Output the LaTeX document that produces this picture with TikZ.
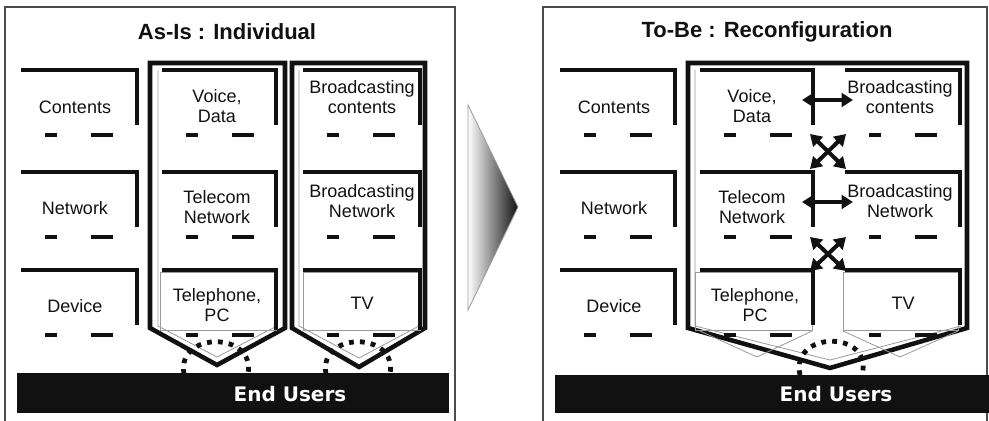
\documentclass[tikz,border=0pt]{standalone}
\usepackage{fontspec}
\setmainfont{Liberation Sans}
\newfontfamily\usersfont{DejaVu Sans}
\usetikzlibrary{arrows.meta}
\definecolor{cfgInk}{HTML}{111111}
\definecolor{cfgGray}{HTML}{9A9A9A}
\tikzset{
  every picture/.style={text=cfgInk},
  panel frame/.style={draw=cfgInk!75, line width=1pt},
  panel title/.style={font=\fontsize{16.5}{18}\selectfont\bfseries, inner sep=0pt},
  cell text/.style={font=\fontsize{13.5}{15.5}\selectfont, align=center, inner sep=0pt},
  cell bar/.style={draw=cfgInk, line width=3pt, line cap=butt, line join=miter},
  cell dash/.style={draw=cfgInk, line width=3pt},
  cell box/.style={draw=cfgGray, line width=0.5pt},
  column frame/.style={draw=cfgInk, line width=3.4pt, line join=miter},
  column inner/.style={draw=cfgGray, line width=0.6pt},
  users bar/.style={fill=cfgInk},
  users text/.style={font=\usersfont\bfseries\fontsize{15}{18}\selectfont, text=white, inner sep=0pt},
  user link/.style={draw=cfgInk, line width=3.6pt, dash pattern=on 3.6pt off 4.6pt},
  link arrow/.style={{Triangle[length=3mm,width=3.6mm]}-{Triangle[length=3mm,width=3.6mm]},
    draw=cfgInk, line width=3pt},
  pics/cellbars/.style args={#1/#2}{code={
    \draw[cell bar] (0,0) -- (#1,0) -- (#1,#2);
    \draw[cell dash] (24,65) -- (36,65);
    \draw[cell dash] (70,65) -- (92,65);
  }}
}

\begin{document}
\begin{tikzpicture}[x=0.75pt,y=-0.75pt]
  \useasboundingbox (0,0) rectangle (989,421);

  % as-is panel
  \draw[panel frame] (5,421) -- (5,7) -- (455,7) -- (455,421);
  \node[panel title] (asTitle) at (227,32) {As-Is : Individual};

  \draw[column frame] (150,63) -- (285,63) -- (285,328) -- (217,365) -- (150,328) -- cycle;
  \draw[column inner] (158,70) -- (158,326) -- (217,357) -- (277,326);
  \draw[column frame] (292,63) -- (425,63) -- (425,328) -- (359,367) -- (292,328) -- cycle;
  \draw[column inner] (299,70) -- (299,326) -- (359,358) -- (419,326);

  \pic at (21,70) {cellbars={116/55}};
  \pic at (21,172) {cellbars={116/55}};
  \pic at (21,270) {cellbars={116/55}};
  \pic at (162,70) {cellbars={114/55}};
  \pic at (162,172) {cellbars={114/55}};
  \draw[cell box] (160,272) rectangle (276,330);
  \pic at (162,270) {cellbars={114/60}};
  \pic at (303,70) {cellbars={117/55}};
  \pic at (303,172) {cellbars={117/55}};
  \draw[cell box] (303,272) rectangle (420,330);
  \pic at (303,270) {cellbars={117/60}};

  \node[cell text] (asContents) at (75,107) {Contents};
  \node[cell text] (asNetwork) at (75,208) {Network};
  \node[cell text] (asDevice) at (75,306) {Device};
  \node[cell text] (asVoice) at (217,106) {Voice,\\Data};
  \node[cell text] (asTelecom) at (217,207) {Telecom\\Network};
  \node[cell text] (asPhone) at (217,305) {Telephone,\\PC};
  \node[cell text] (asBcContents) at (362,97) {Broadcasting\\contents};
  \node[cell text] (asBcNetwork) at (362,201) {Broadcasting\\Network};
  \node[cell text] (asTV) at (362,303) {TV};

  \draw[user link] (184,374) .. controls (176,331) and (256,331) .. (248,374);
  \draw[user link] (326,374) .. controls (318,331) and (398,331) .. (390,374);
  \fill[users bar] (17,373) rectangle (449,413);
  \node[users text] (asUsers) at (290,394) {End Users};

  % change arrow
  \shade[left color=white, right color=cfgInk] (468,105) -- (518,207) -- (468,310) -- cycle;
  \draw[cfgGray, line width=0.6pt] (468,105) -- (518,207) -- (468,310) -- cycle;

  % to-be panel
  \draw[panel frame] (543,421) -- (543,7) -- (987,7) -- (987,421);
  \node[panel title] (tbTitle) at (767,32) {To-Be : Reconfiguration};

  \draw[column frame] (688,63) -- (967,63) -- (967,328) -- (830,368) -- (688,328) -- cycle;
  \draw[column inner] (695,70) -- (695,326) -- (830,360) -- (961,326);
  \draw[column inner] (700,331) -- (757,357) -- (812,331);
  \draw[column inner] (843,331) -- (900,357) -- (958,331);

  \pic at (560,70) {cellbars={115/55}};
  \pic at (560,172) {cellbars={115/55}};
  \pic at (560,270) {cellbars={115/55}};
  \pic at (700,70) {cellbars={113/55}};
  \pic at (700,172) {cellbars={113/55}};
  \draw[cell box] (695,272) rectangle (812,330);
  \pic at (700,270) {cellbars={113/55}};
  \pic at (845,70) {cellbars={115/55}};
  \pic at (845,172) {cellbars={115/55}};
  \draw[cell box] (843,272) rectangle (958,330);
  \pic at (845,270) {cellbars={115/55}};

  \node[cell text] (tbContents) at (614,107) {Contents};
  \node[cell text] (tbNetwork) at (614,208) {Network};
  \node[cell text] (tbDevice) at (614,306) {Device};
  \node[cell text] (tbVoice) at (752,106) {Voice,\\Data};
  \node[cell text] (tbTelecom) at (752,207) {Telecom\\Network};
  \node[cell text] (tbPhone) at (755,305) {Telephone,\\PC};
  \node[cell text] (tbBcContents) at (900,97) {Broadcasting\\contents};
  \node[cell text] (tbBcNetwork) at (900,201) {Broadcasting\\Network};
  \node[cell text] (tbTV) at (903,303) {TV};

  % links between the merged cells
  \coordinate (voiceEnd) at (802,100);
  \coordinate (bcContentsEnd) at (853,100);
  \coordinate (telecomEnd) at (802,202);
  \coordinate (bcNetworkEnd) at (853,202);
  \coordinate (upperLeftTop) at (810,134);
  \coordinate (upperRightTop) at (846,134);
  \coordinate (upperLeftLow) at (810,169);
  \coordinate (upperRightLow) at (846,169);
  \coordinate (lowerLeftTop) at (810,237);
  \coordinate (lowerRightTop) at (846,237);
  \coordinate (lowerLeftLow) at (810,271);
  \coordinate (lowerRightLow) at (846,271);
  \draw[link arrow] (voiceEnd) -- (bcContentsEnd);
  \draw[link arrow] (telecomEnd) -- (bcNetworkEnd);
  \draw[link arrow] (upperLeftTop) -- (upperRightLow);
  \draw[link arrow] (upperRightTop) -- (upperLeftLow);
  \draw[link arrow] (lowerLeftTop) -- (lowerRightLow);
  \draw[link arrow] (lowerRightTop) -- (lowerLeftLow);

  \draw[user link] (800,375) .. controls (790,330) and (874,330) .. (862,375);
  \fill[users bar] (555,375) rectangle (989,413);
  \node[users text] (tbUsers) at (836,394) {End Users};
\end{tikzpicture}
\end{document}
